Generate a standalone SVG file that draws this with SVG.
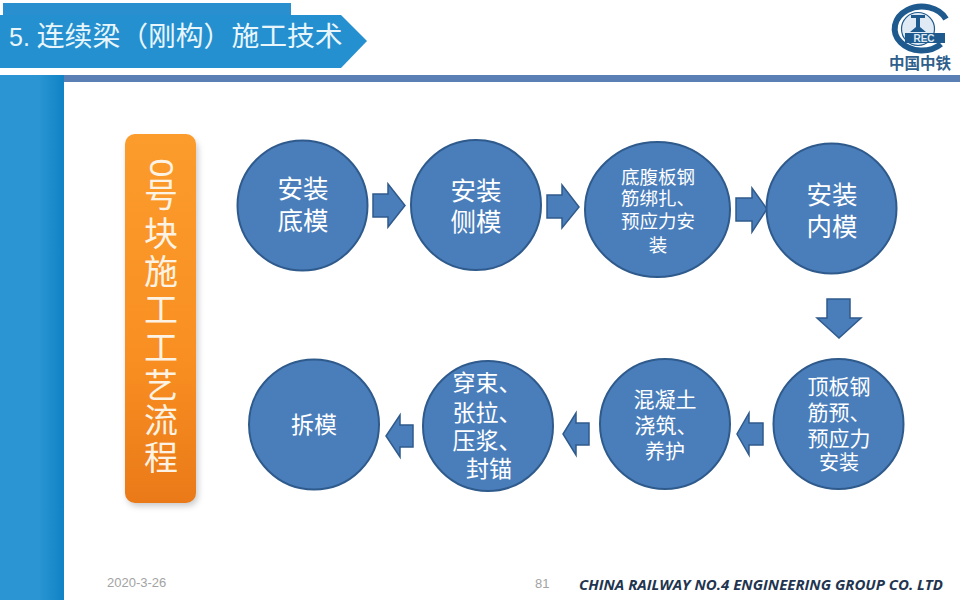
<svg xmlns="http://www.w3.org/2000/svg" width="960" height="600" viewBox="0 0 960 600">
<defs>
<linearGradient id="side" x1="0" x2="1" y1="0" y2="0"><stop offset="0" stop-color="#2a95d2"/><stop offset="0.6" stop-color="#2a95d2"/><stop offset="1" stop-color="#1083c6"/></linearGradient>
<linearGradient id="orange" x1="0" x2="0" y1="0" y2="1"><stop offset="0" stop-color="#fb9c2c"/><stop offset="0.6" stop-color="#f98f22"/><stop offset="1" stop-color="#ea7a18"/></linearGradient>
<filter id="sh" x="-30%" y="-10%" width="160%" height="120%"><feGaussianBlur stdDeviation="3"/></filter>
</defs>
<style>
text{font-family:"Noto Sans CJK SC",sans-serif}
.c{fill:#4a7ebb;stroke:#2f5a8c;stroke-width:2}
.a{fill:#4a7ebb;stroke:#2f5a8c;stroke-width:1.5}
.t{fill:#fff;text-anchor:middle}
.l{font-size:25.5px}
.m{font-size:23px}
.n{font-size:21px}
.p{font-size:20px}
.s{font-size:18.5px}
.v{fill:#fdf3e4;font-size:34px;text-anchor:middle}
.lat{font-family:"Liberation Sans",sans-serif}
</style>
<rect width="960" height="600" fill="#fff"/>
<g id="header">
<rect x="3" y="3" width="288" height="14" fill="#2a8fcf"/>
<path d="M0 15H341L367 41L341 68H0Z" fill="#2490cf"/>
<text x="9" y="46" font-size="25" fill="#e8f6fc"><tspan class="lat">5. </tspan><tspan font-size="27.8">连续梁（刚构）施工技术</tspan></text>
<rect x="64" y="75" width="896" height="7" fill="#5a7fb5"/>
<rect x="0" y="75" width="64" height="525" fill="url(#side)"/>
</g>
<g id="logo">
<path d="M946 19A27 22 0 1 0 941 44" fill="none" stroke="#1f5a8e" stroke-width="6"/>
<circle cx="918" cy="29" r="16.5" fill="#dfeaf4" stroke="#1f5a8e" stroke-width="1.2"/>
<path d="M911 15H925V18H920V27L926 32H910L916 27V18H911Z" fill="#1f5a8e"/>
<rect x="905" y="33" width="40" height="10" fill="#1f5a8e"/>
<text x="924" y="42" font-size="10" font-weight="bold" fill="#dfeaf4" text-anchor="middle" class="lat">REC</text>
<text x="920" y="69" font-size="15.5" font-weight="bold" fill="#2f5f8c" text-anchor="middle">中国中铁</text>
</g>
<g id="title-box">
<rect x="127" y="139" width="71" height="367" rx="10" fill="#777" opacity="0.4" filter="url(#sh)"/>
<rect x="125" y="134" width="71" height="369" rx="10" fill="url(#orange)"/>
<text class="v lat" x="0" y="0" transform="translate(150 168) rotate(90)">0</text>
<text class="v" x="161" y="207">号</text>
<text class="v" x="161" y="246">块</text>
<text class="v" x="161" y="284">施</text>
<text class="v" x="161" y="322">工</text>
<text class="v" x="161" y="360">工</text>
<text class="v" x="161" y="398">艺</text>
<text class="v" x="161" y="433">流</text>
<text class="v" x="161" y="470">程</text>
</g>
<g id="connectors">
<path class="a" d="M373 194H388V184L405 205.5L388 227V217H373Z"/>
<path class="a" d="M547 195H562V185L579 207L562 228V218H547Z"/>
<path class="a" d="M736 198H752V188L767 209L752 232V221H736Z"/>
<path class="a" d="M827 299H850V318H861L839 338L817 318H827Z"/>
<path class="a" d="M763 423V445H749V455L737 434L749 413V423Z"/>
<path class="a" d="M589 423V445H576V455L563 434L576 413V423Z"/>
<path class="a" d="M413 425V447H400V457L386 436L400 415V425Z"/>
</g>
<g id="n1"><circle class="c" cx="302.5" cy="205.5" r="65"/><text class="t l" x="303" y="198">安装</text><text class="t l" x="303" y="230">底模</text></g>
<g id="n2"><circle class="c" cx="476" cy="205" r="65"/><text class="t l" x="476" y="200">安装</text><text class="t l" x="476" y="231">侧模</text></g>
<g id="n3"><ellipse class="c" cx="657.5" cy="209.5" rx="72.5" ry="67.5"/><text class="t s" x="658" y="184">底腹板钢</text><text class="t s" x="658" y="205">筋绑扎、</text><text class="t s" x="658" y="228">预应力安</text><text class="t s" x="658" y="252">装</text></g>
<g id="n4"><circle class="c" cx="831.5" cy="208.5" r="65"/><text class="t l" x="832" y="204">安装</text><text class="t l" x="832" y="236">内模</text></g>
<g id="n5"><circle class="c" cx="838.5" cy="424" r="65"/><text class="t n" x="839" y="394">顶板钢</text><text class="t n" x="839" y="420">筋预、</text><text class="t n" x="839" y="446">预应力</text><text class="t p" x="839" y="470">安装</text></g>
<g id="n6"><circle class="c" cx="665" cy="424" r="65"/><text class="t n" x="665" y="407">混凝土</text><text class="t n" x="666" y="433">浇筑、</text><text class="t p" x="665" y="459">养护</text></g>
<g id="n7"><circle class="c" cx="488" cy="426" r="65"/><text class="t m" x="487" y="391">穿束、</text><text class="t m" x="487" y="421">张拉、</text><text class="t m" x="487" y="449">压浆、</text><text class="t m" x="489" y="477">封锚</text></g>
<g id="n8"><circle class="c" cx="314" cy="424.5" r="65"/><text class="t m" x="314" y="433">拆模</text></g>
<g id="footer">
<text x="107" y="587" font-size="13" fill="#a3a3a3" class="lat">2020-3-26</text>
<text x="535" y="588" font-size="13" fill="#a3a3a3" class="lat">81</text>
<text x="579" y="590" font-size="13.5" font-weight="bold" font-style="italic" fill="#1f3550" style="font-family:'Open Sans',sans-serif" textLength="364" lengthAdjust="spacingAndGlyphs">CHINA RAILWAY NO.4 ENGINEERING GROUP CO. LTD</text>
</g>
</svg>
